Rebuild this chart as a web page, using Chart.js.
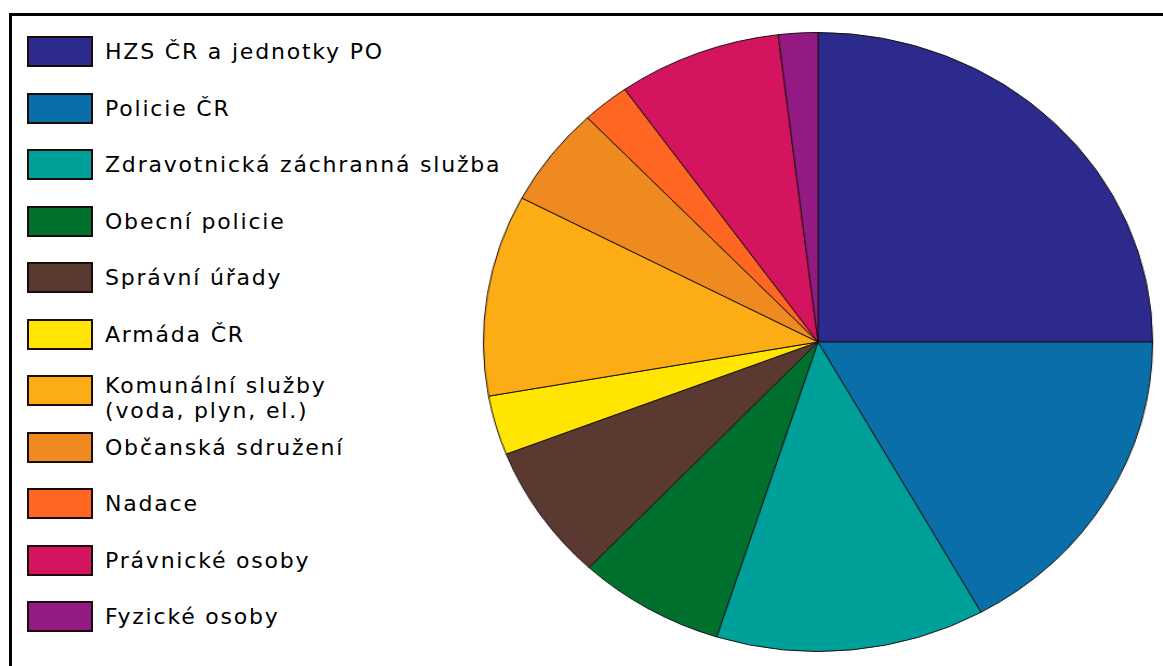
<!DOCTYPE html>
<html>
<head>
<meta charset="utf-8">
<script src="https://cdn.jsdelivr.net/npm/chart.js@4"></script>
<style>
  body { margin: 0; background: #fff; width: 1163px; height: 666px; overflow: hidden; position: relative; }
  #frame { position: absolute; left: 9px; top: 13px; width: 1200px; height: 700px; border: 3px solid #000; }
  #pieBox { position: absolute; left: 507px; top: 31px; width: 622px; height: 622px; transform: scaleX(1.081); transform-origin: 311px 311px; }
  .item { position: absolute; left: 27px; height: 31px; }
  .box { position: absolute; left: 0; top: 0; width: 62px; height: 27px; border: 2px solid #1a0a0a; }
  .txt { position: absolute; left: 78px; font-family: "DejaVu Sans", Verdana, sans-serif; font-size: 22px; letter-spacing: 1.8px; line-height: 25px; color: #000; white-space: nowrap; }
</style>
</head>
<body>
<div id="frame"></div>
<div id="legend"></div>
<div id="pieBox"><canvas id="pie" width="622" height="622"></canvas></div>
<script>
const labels = [
  'HZS ČR a jednotky PO',
  'Policie ČR',
  'Zdravotnická záchranná služba',
  'Obecní policie',
  'Správní úřady',
  'Armáda ČR',
  ['Komunální služby', '(voda, plyn, el.)'],
  'Občanská sdružení',
  'Nadace',
  'Právnické osoby',
  'Fyzické osoby'
];
const shares = [25.0, 16.9, 13.0, 7.1, 7.1, 3.1, 10.5, 5.2, 2.3, 7.9, 1.9];
const colors = [
  '#2c2a8c', '#0a6fa8', '#00a09a', '#00702f', '#5a3a30', '#ffe500',
  '#fcac14', '#ee8a20', '#ff6622', '#d4145f', '#931a82'
];

// legend as plain html next to the pie
const legend = document.getElementById('legend');
labels.forEach((label, i) => {
  const item = document.createElement('div');
  item.className = 'item';
  item.style.top = (36 + i * 56.5) + 'px';
  const box = document.createElement('div');
  box.className = 'box';
  box.style.background = colors[i];
  const txt = document.createElement('div');
  txt.className = 'txt';
  const lines = Array.isArray(label) ? label : [label];
  txt.style.top = lines.length > 1 ? '-2px' : '3px';
  txt.innerHTML = lines.join('<br>');
  item.appendChild(box);
  item.appendChild(txt);
  legend.appendChild(item);
});

new Chart(document.getElementById('pie'), {
  type: 'pie',
  data: {
    labels: labels.map(l => Array.isArray(l) ? l.join(' ') : l),
    datasets: [{
      data: shares,
      backgroundColor: colors,
      borderColor: '#1a1010',
      borderWidth: 1
    }]
  },
  options: {
    responsive: false,
    animation: false,
    layout: { padding: 1 },
    plugins: {
      legend: { display: false },
      tooltip: { enabled: false }
    }
  }
});
</script>
</body>
</html>
